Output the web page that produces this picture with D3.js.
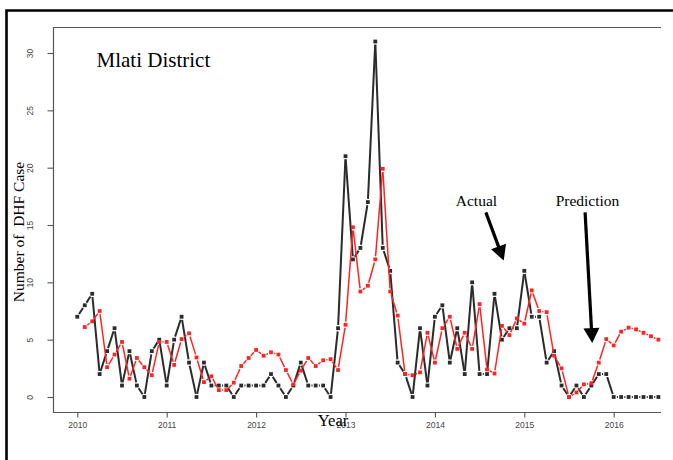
<!DOCTYPE html>
<html>
<head>
<meta charset="utf-8">
<script src="https://cdn.jsdelivr.net/npm/d3@7"></script>
<style>
  body { margin: 0; background: #fff; }
  svg { display: block; }
  text { font-kerning: normal; }
</style>
</head>
<body>
<svg id="chart" width="673" height="460"></svg>
<script>
// Monthly dengue haemorrhagic fever cases, Mlati District, Jan 2010 – Jul 2016
const startYear = 2010;
const yearTicks = [2010, 2011, 2012, 2013, 2014, 2015, 2016];
const caseTicks = [0, 5, 10, 15, 20, 25, 30];

// observed monthly cases
const actual = [
  7, 8, 9, 2, 4, 6, 1, 4, 1, 0, 4, 5,          // 2010
  1, 5, 7, 3, 0, 3, 1, 1, 1, 0, 1, 1,          // 2011
  1, 1, 2, 1, 0, 1, 3, 1, 1, 1, 0, 6,          // 2012
  21, 12, 13, 17, 31, 13, 11, 3, 2, 0, 6, 1,   // 2013
  7, 8, 3, 6, 2, 10, 2, 2, 9, 5, 6, 6,         // 2014
  11, 7, 7, 3, 4, 1, 0, 1, 0, 1, 2, 2,         // 2015
  0, 0, 0, 0, 0, 0, 0                          // 2016
];

// model output (no value for the first month)
const predicted = [
  null, 6.1, 6.6, 7.5, 2.6, 3.7, 4.8, 1.6, 3.4, 2.6, 1.9, 4.8,   // 2010
  4.8, 2.8, 5.05, 5.55, 3.45, 1.3, 1.8, 0.6, 0.6, 1.25, 2.7, 3.4, // 2011
  4.1, 3.6, 3.9, 3.7, 2.35, 1.1, 2.3, 3.4, 2.7, 3.2, 3.3, 2.35,  // 2012
  6.3, 14.8, 9.2, 9.7, 12.0, 19.9, 9.2, 7.1, 2.0, 1.9, 2.15, 5.6, // 2013
  3.0, 6.0, 7.0, 4.2, 5.6, 4.2, 8.1, 2.4, 2.05, 6.2, 5.4, 6.85,  // 2014
  6.4, 9.3, 7.5, 7.4, 3.6, 2.5, 0.0, 0.4, 1.1, 1.2, 3.0, 5.05,   // 2015
  4.5, 5.7, 6.05, 5.9, 5.6, 5.3, 5.0                             // 2016
];

// arrow annotations, in data units (time, cases)
const notes = [
  { label: "Actual",     text: [2014.465, 16.65], from: [2014.57, 16.1], tip: [2014.77, 11.9] },
  { label: "Prediction", text: [2015.707, 16.65], from: [2015.68, 16.1], tip: [2015.76, 4.7] }
];

const svg = d3.select("#chart");

// panel extents
const panel = { left: 53, right: 661, top: 27, bottom: 412 };

const x = d3.scaleLinear().domain([2010, 2016]).range([77.3, 613.7]);
const y = d3.scaleLinear().domain([0, 30]).range([397, 53]);

const toSeries = arr => arr.map((v, i) => ({ t: startYear + i / 12, v }))
                           .filter(d => d.v !== null);

// outer frame
svg.append("path")
  .attr("d", "M6.5,460 V10.5 H673")
  .attr("fill", "none")
  .attr("stroke", "#000")
  .attr("stroke-width", 2.6);

// panel box (left, top, bottom)
svg.append("path")
  .attr("d", `M${panel.right},${panel.top + 0.5} H${panel.left + 0.5} V${panel.bottom + 0.5} H${panel.right}`)
  .attr("fill", "none")
  .attr("stroke", "#555")
  .attr("stroke-width", 1.2);

// x axis
const gx = svg.append("g")
  .attr("transform", `translate(0,${panel.bottom + 0.5})`)
  .call(d3.axisBottom(x).tickValues(yearTicks).tickSize(5).tickPadding(4).tickFormat(d3.format("d")));
gx.select(".domain").remove();
gx.selectAll(".tick line").attr("stroke", "#555").attr("stroke-width", 1.1);
gx.selectAll(".tick text")
  .attr("font-family", "Liberation Sans, Arial, sans-serif")
  .attr("font-size", 8.5)
  .attr("fill", "#444");

// y axis with labels rotated along the axis
const gy = svg.append("g")
  .attr("transform", `translate(${panel.left + 0.5},0)`)
  .call(d3.axisLeft(y).tickValues(caseTicks).tickSize(6).tickFormat(d3.format("d")));
gy.select(".domain").remove();
gy.selectAll(".tick line").attr("stroke", "#555").attr("stroke-width", 1.1);
gy.selectAll(".tick text")
  .attr("x", null).attr("dy", null)
  .attr("transform", "translate(-23.5,0) rotate(-90)")
  .attr("text-anchor", "middle")
  .attr("dominant-baseline", "central")
  .attr("font-family", "Liberation Sans, Arial, sans-serif")
  .attr("font-size", 8.5)
  .attr("fill", "#444");

// series drawn as points joined by lines that stop short of each point
function drawSeries(data, color, lineWidth, gap) {
  const g = svg.append("g");
  const segs = [];
  for (let i = 1; i < data.length; i++) {
    const x1 = x(data[i - 1].t), y1 = y(data[i - 1].v);
    const x2 = x(data[i].t), y2 = y(data[i].v);
    const len = Math.hypot(x2 - x1, y2 - y1);
    if (len <= 2 * gap + 0.5) continue;
    const ux = (x2 - x1) / len, uy = (y2 - y1) / len;
    segs.push([x1 + ux * gap, y1 + uy * gap, x2 - ux * gap, y2 - uy * gap]);
  }
  g.selectAll("line").data(segs).join("line")
    .attr("x1", d => d[0]).attr("y1", d => d[1])
    .attr("x2", d => d[2]).attr("y2", d => d[3])
    .attr("stroke", color)
    .attr("stroke-width", lineWidth)
    .attr("stroke-linecap", "butt");
  const s = 3.8;
  g.selectAll("rect").data(data).join("rect")
    .attr("x", d => x(d.t) - s / 2)
    .attr("y", d => y(d.v) - s / 2)
    .attr("width", s).attr("height", s)
    .attr("fill", color);
}

drawSeries(toSeries(actual), "#2b2b2b", 2, 3.2);
drawSeries(toSeries(predicted), "#ff2424", 1.5, 3.2);

// titles
const serif = "Liberation Serif, 'Times New Roman', serif";
svg.append("text")
  .attr("x", 96.5).attr("y", 67)
  .attr("font-family", serif).attr("font-size", 21)
  .attr("fill", "#000")
  .text("Mlati District");

svg.append("text")
  .attr("x", 333).attr("y", 426)
  .attr("text-anchor", "middle")
  .attr("font-family", serif).attr("font-size", 16.5)
  .attr("fill", "#000")
  .text("Year");

svg.append("text")
  .attr("transform", "translate(24,232) rotate(-90)")
  .attr("text-anchor", "middle")
  .attr("font-family", serif).attr("font-size", 15.5)
  .attr("fill", "#000")
  .attr("xml:space", "preserve")
  .style("white-space", "pre")
  .text("Number of  DHF Case");

// arrow annotations
notes.forEach(n => {
  svg.append("text")
    .attr("x", x(n.text[0])).attr("y", y(n.text[1]))
    .attr("text-anchor", "middle")
    .attr("font-family", serif).attr("font-size", 15.5)
    .attr("fill", "#000")
    .text(n.label);

  const x0 = x(n.from[0]), y0 = y(n.from[1]);
  const x1 = x(n.tip[0]), y1 = y(n.tip[1]);
  const len = Math.hypot(x1 - x0, y1 - y0);
  const ux = (x1 - x0) / len, uy = (y1 - y0) / len;
  const head = 15, half = 8;
  const bx = x1 - ux * head, by = y1 - uy * head;
  svg.append("line")
    .attr("x1", x0).attr("y1", y0)
    .attr("x2", bx + ux * 2).attr("y2", by + uy * 2)
    .attr("stroke", "#000").attr("stroke-width", 3.2);
  svg.append("path")
    .attr("d", `M${x1},${y1} L${bx - uy * half},${by + ux * half} L${bx + uy * half},${by - ux * half} Z`)
    .attr("fill", "#000");
});
</script>
</body>
</html>
